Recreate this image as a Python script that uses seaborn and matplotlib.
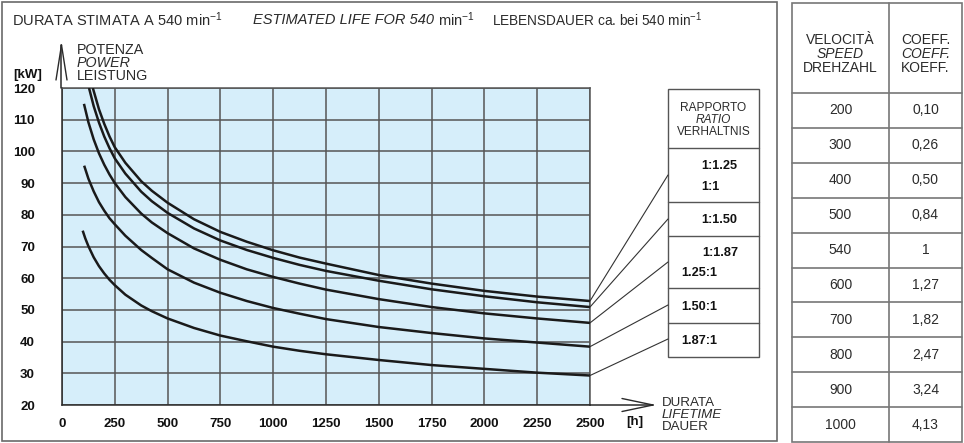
import matplotlib
matplotlib.use("Agg")
import matplotlib.pyplot as plt
import numpy as np
import pandas as pd
import seaborn as sns
from matplotlib.lines import Line2D
from matplotlib.patches import Rectangle, ConnectionPatch

# ---------------- data ----------------
curve_names = ["1:1.25 / 1:1", "1:1.50", "1:1.87 / 1.25:1", "1.50:1", "1.87:1"]

c1_hours = [146, 175, 200, 225, 250, 300, 375, 425, 500, 625, 750, 875, 1000, 1125, 1250, 1500, 1750, 2000, 2250, 2500]
c1_power = [120, 113.3, 108.7, 104.7, 101.3, 96.4, 90.6, 87.6, 83.8, 78.6, 74.6, 71.5, 68.8, 66.5, 64.6, 61.0, 58.3, 56.0, 54.2, 52.8]

c2_hours = [128, 150, 175, 200, 225, 250, 300, 375, 425, 500, 625, 750, 875, 1000, 1125, 1250, 1500, 1750, 2000, 2250, 2500]
c2_power = [120, 114.3, 109.1, 104.7, 101.0, 97.8, 93.0, 87.3, 84.3, 80.6, 75.7, 71.9, 68.9, 66.4, 64.2, 62.3, 59.2, 56.5, 54.3, 52.4, 50.9]

c3_hours = [104, 125, 150, 175, 200, 225, 250, 300, 375, 425, 500, 625, 750, 875, 1000, 1125, 1250, 1500, 1750, 2000, 2250, 2500]
c3_power = [115, 109.2, 103.8, 99.4, 95.8, 92.7, 90.0, 85.6, 80.4, 77.6, 74.2, 69.4, 65.8, 62.8, 60.4, 58.3, 56.4, 53.4, 50.9, 48.9, 47.3, 45.9]

c4_hours = [105, 125, 150, 175, 200, 225, 250, 300, 375, 425, 500, 625, 750, 875, 1000, 1125, 1250, 1500, 1750, 2000, 2250, 2500]
c4_power = [95.5, 91.4, 87.4, 84.0, 81.3, 78.9, 77.0, 73.4, 68.9, 66.4, 62.8, 58.6, 55.4, 52.8, 50.6, 48.8, 47.1, 44.6, 42.7, 41.0, 39.7, 38.4]

c5_hours = [98, 110, 125, 150, 175, 200, 225, 250, 300, 375, 425, 500, 625, 750, 875, 1000, 1125, 1250, 1500, 1750, 2000, 2250, 2500]
c5_power = [75.0, 72.6, 70.1, 66.6, 63.8, 61.5, 59.5, 57.8, 54.8, 51.4, 49.6, 47.3, 44.3, 41.9, 40.1, 38.4, 37.1, 36.0, 34.2, 32.6, 31.4, 30.2, 29.3]

x_ticks = [0, 250, 500, 750, 1000, 1250, 1500, 1750, 2000, 2250, 2500]
y_ticks = [20, 30, 40, 50, 60, 70, 80, 90, 100, 110, 120]

legend_labels = ["1:1.25", "1:1", "1:1.50", "1:1.87", "1.25:1", "1.50:1", "1.87:1"]

speeds = ["200", "300", "400", "500", "540", "600", "700", "800", "900", "1000"]
coeffs = ["0,10", "0,26", "0,50", "0,84", "1", "1,27", "1,82", "2,47", "3,24", "4,13"]

all_hours = [c1_hours, c2_hours, c3_hours, c4_hours, c5_hours]
all_power = [c1_power, c2_power, c3_power, c4_power, c5_power]

frames = []
for name, hh, pp in zip(curve_names, all_hours, all_power):
    frames.append(pd.DataFrame({"hours": hh, "power": pp, "curve": name}))
df = pd.concat(frames, ignore_index=True)

# ---------------- style ----------------
sns.set_theme(style="white")
plt.rcParams["font.family"] = ["Liberation Sans", "DejaVu Sans"]
plt.rcParams["mathtext.default"] = "regular"

W, H = 964, 443
fig = plt.figure(figsize=(W / 100, H / 100), dpi=100)
fig.patch.set_facecolor("white")


def fx(x):
    return x / W


def fy(y):
    return 1 - y / H


TF = fig.transFigure
GRID = "#555555"
AXC = "#2a2a2a"
TXT = "#2b2b2b"

ax = fig.add_axes([fx(62), fy(405), (590 - 62) / W, (405 - 88) / H])
ax.set_facecolor("#d6eefa")

sns.lineplot(data=df, x="hours", y="power", hue="curve", sort=False,
             palette={n: "#1a1a1a" for n in curve_names}, linewidth=1.8,
             legend=False, ax=ax, estimator=None)

ax.set_xlim(0, 2500)
ax.set_ylim(20, 120)
ax.set_xticks(x_ticks)
ax.set_yticks(y_ticks)
ax.set_xticklabels([str(v) for v in x_ticks], fontweight="bold", fontsize=9.5)
ax.set_yticklabels([str(v) for v in y_ticks], fontweight="bold", fontsize=9.5)
ax.grid(True, color=GRID, linewidth=1.1)
for side, sp in ax.spines.items():
    sp.set_visible(True)
    sp.set_color(GRID)
    sp.set_linewidth(1.1)
ax.spines["left"].set_color(AXC)
ax.spines["bottom"].set_color(AXC)
ax.tick_params(axis="y", direction="out", length=10, width=1.1, color=AXC, pad=9.5, labelcolor="#111111")
ax.tick_params(axis="x", direction="out", length=5, width=1.1, color=AXC, pad=4.5, labelcolor="#111111")
ax.set_xlabel("")
ax.set_ylabel("")
for ln in ax.lines:
    ln.set_zorder(5)
    ln.set_solid_joinstyle("round")
    ln.set_solid_capstyle("butt")

# ---------------- frame around chart ----------------
fig.add_artist(Rectangle((fx(2), fy(441)), fx(777) - fx(2), fy(2) - fy(441),
                         transform=TF, fill=False, edgecolor="#6a6a6a", linewidth=1.2))


def fline(x1, y1, x2, y2, **kw):
    fig.add_artist(Line2D([fx(x1), fx(x2)], [fy(y1), fy(y2)], transform=TF, **kw))


# axis arrows (open heads)
fline(61.5, 88, 61.5, 45, color=AXC, lw=1.1)
fline(61.5, 45, 56, 80, color=AXC, lw=1.0)
fline(61.5, 45, 67, 80, color=AXC, lw=1.0)
fline(590, 405, 653, 405, color=AXC, lw=1.1)
fline(653, 405, 622, 398.5, color=AXC, lw=1.0)
fline(653, 405, 622, 411.5, color=AXC, lw=1.0)

# ---------------- texts ----------------
def ftext(x, y, s, **kw):
    kw.setdefault("va", "center")
    kw.setdefault("ha", "left")
    kw.setdefault("color", TXT)
    return fig.text(fx(x), fy(y), s, **kw)


ftext(12, 20, "DURATA STIMATA A 540 min$^{-1}$", fontsize=10.5)
t_it = ftext(253, 20, "ESTIMATED LIFE FOR 540", fontsize=10.5, style="italic")
fig.canvas.draw()
bb = t_it.get_window_extent(renderer=fig.canvas.get_renderer())
ftext(bb.x1 + 3.5, 20, "min$^{-1}$", fontsize=10.5)
ftext(492, 20, "LEBENSDAUER ca. bei 540 min$^{-1}$", fontsize=9.8)

ftext(77, 50, "POTENZA", fontsize=10.3)
ftext(77, 63, "POWER", fontsize=10.3, style="italic")
ftext(77, 76, "LEISTUNG", fontsize=10.3)
ftext(28, 75, "[kW]", fontsize=9.5, fontweight="bold", ha="center", color="#111111")

ftext(662, 403.5, "DURATA", fontsize=9.6)
ftext(662, 415.5, "LIFETIME", fontsize=9.6, style="italic")
ftext(662, 427.5, "DAUER", fontsize=9.6)
ftext(635, 422, "[h]", fontsize=9.5, fontweight="bold", ha="center", color="#111111")

# ---------------- ratio legend box ----------------
BOX = "#555555"
fig.add_artist(Rectangle((fx(668), fy(357)), fx(759) - fx(668), fy(89) - fy(357),
                         transform=TF, fill=False, edgecolor=BOX, linewidth=1.0))
for yy in [148, 202, 236, 288, 323]:
    fline(668, yy, 759, yy, color=BOX, lw=1.0)

narrow = ["Liberation Sans Narrow", "Liberation Sans", "DejaVu Sans"]
ftext(713.5, 108, "RAPPORTO", fontsize=8.6, ha="center", family=narrow)
ftext(713.5, 120, "RATIO", fontsize=8.6, ha="center", style="italic", family=narrow)
ftext(713.5, 132, "VERHALTNIS", fontsize=8.6, ha="center", family=narrow)

label_pos = [(701, 166), (701, 187), (701, 220), (702, 253), (681, 273), (681, 307), (681, 341)]
for lab, (lx, ly) in zip(legend_labels, label_pos):
    ftext(lx, ly, lab, fontsize=9.2, fontweight="bold", color="#111111")

# leader lines from curve ends to the legend box
leader_targets = [175, 219, 262, 305, 339]
for hh, pp, ty in zip(all_hours, all_power, leader_targets):
    con = ConnectionPatch(xyA=(hh[-1], pp[-1]), coordsA=ax.transData,
                          xyB=(fx(668), fy(ty)), coordsB=TF,
                          color="#333333", lw=0.8)
    fig.add_artist(con)

# ---------------- speed / coefficient table ----------------
TB = "#777777"
tx0, tx1, txm = 792, 962, 889
ty0, ty1, tyh = 3, 442, 93
fig.add_artist(Rectangle((fx(tx0), fy(ty1)), fx(tx1) - fx(tx0), fy(ty0) - fy(ty1),
                         transform=TF, fill=False, edgecolor=TB, linewidth=1.2))
fline(txm, ty0, txm, ty1, color=TB, lw=1.2)
row_h = (ty1 - tyh) / len(speeds)
for i in range(len(speeds)):
    fline(tx0, tyh + i * row_h, tx1, tyh + i * row_h, color=TB, lw=1.2)

c_sp = (tx0 + txm) / 2
c_cf = (txm + tx1) / 2
ftext(c_sp, 40, "VELOCITÀ", fontsize=10, ha="center")
ftext(c_sp, 54, "SPEED", fontsize=10, ha="center", style="italic")
ftext(c_sp, 67.5, "DREHZAHL", fontsize=10, ha="center")
ftext(c_cf, 40, "COEFF.", fontsize=10, ha="center")
ftext(c_cf, 54, "COEFF.", fontsize=10, ha="center", style="italic")
ftext(c_cf, 67.5, "KOEFF.", fontsize=10, ha="center")
for i, (s, c) in enumerate(zip(speeds, coeffs)):
    yc = tyh + (i + 0.5) * row_h
    ftext(c_sp, yc, s, fontsize=10, ha="center")
    ftext(c_cf, yc, c, fontsize=10, ha="center")

fig.savefig("out.png", dpi=100, facecolor="white")
